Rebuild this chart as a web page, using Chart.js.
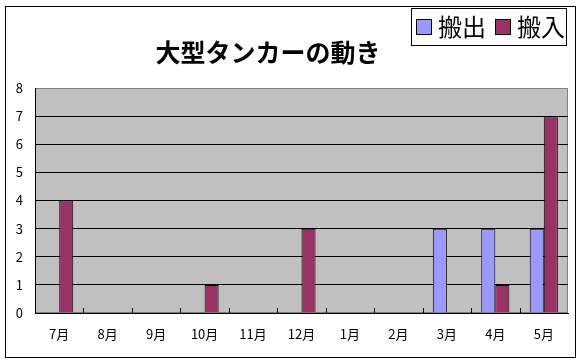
<!DOCTYPE html>
<html>
<head>
<meta charset="utf-8">
<script src="https://cdn.jsdelivr.net/npm/chart.js@4.4.0/dist/chart.umd.min.js"></script>
<style>
html,body{margin:0;padding:0;background:#fff;}
#wrap{width:582px;height:363px;position:relative;}
</style>
</head>
<body>
<div id="wrap"><canvas id="c" width="582" height="363"></canvas></div>
<script>
const titleText = '大型タンカーの動き';
const categories = ['7月','8月','9月','10月','11月','12月','1月','2月','3月','4月','5月'];
const outbound = [0,0,0,0,0,0,0,0,3,3,3];   // 搬出
const inbound  = [4,0,0,1,0,3,0,0,0,1,7];   // 搬入
const seriesNames = ['搬出','搬入'];
const yTicks = [0,1,2,3,4,5,6,7,8];

const JP = '"Noto Sans CJK JP", "Noto Sans", sans-serif';

const decor = {
  id: 'decor',
  beforeDraw(chart) {
    const {ctx, chartArea: a} = chart;
    ctx.save();
    ctx.fillStyle = '#fff';
    ctx.fillRect(0, 0, chart.width, chart.height);
    ctx.strokeStyle = '#000';
    ctx.lineWidth = 1;
    ctx.strokeRect(5.5, 6.5, 570, 351);
    ctx.fillStyle = '#c0c0c0';
    ctx.fillRect(a.left, a.top, a.right - a.left, a.bottom - a.top);
    ctx.strokeStyle = '#808080';
    ctx.strokeRect(a.left + 0.5, a.top + 0.5, a.right - a.left - 1, a.bottom - a.top - 1);
    ctx.restore();
  },
  afterDraw(chart) {
    const {ctx, chartArea: a} = chart;
    const x = chart.scales.x;
    ctx.save();
    // inward category tick marks on the x axis
    ctx.strokeStyle = '#000';
    ctx.lineWidth = 1;
    const half = (x.getPixelForTick(1) - x.getPixelForTick(0)) / 2;
    for (let i = 0; i < categories.length - 1; i++) {
      const px = Math.round(x.getPixelForTick(i) + half) + 0.5;
      ctx.beginPath();
      ctx.moveTo(px, a.bottom);
      ctx.lineTo(px, a.bottom - 5);
      ctx.stroke();
    }
    // title
    ctx.fillStyle = '#000';
    ctx.font = 'bold 25px ' + JP;
    ctx.textAlign = 'center';
    ctx.textBaseline = 'middle';
    ctx.fillText(titleText, 268, 52);
    // legend
    ctx.fillStyle = '#fff';
    ctx.fillRect(411, 8, 155, 37);
    ctx.strokeStyle = '#000';
    ctx.strokeRect(411.5, 8.5, 155, 37);
    const xs = [416, 495];
    chart.data.datasets.forEach((ds, i) => {
      ctx.fillStyle = ds.backgroundColor;
      ctx.fillRect(xs[i], 19, 16, 16);
      ctx.strokeStyle = '#000';
      ctx.strokeRect(xs[i] + 0.5, 19.5, 15, 15);
      ctx.fillStyle = '#000';
      ctx.font = '24px ' + JP;
      ctx.textAlign = 'left';
      ctx.textBaseline = 'middle';
      ctx.fillText(ds.label, xs[i] + 22, 27);
    });
    ctx.restore();
  }
};

new Chart(document.getElementById('c'), {
  type: 'bar',
  data: {
    labels: categories,
    datasets: [
      {label: seriesNames[0], data: outbound, backgroundColor: '#9999ff', borderColor: '#000', borderWidth: 1,
       categoryPercentage: 0.58, barPercentage: 1},
      {label: seriesNames[1], data: inbound, backgroundColor: '#993366', borderColor: '#000', borderWidth: 1,
       categoryPercentage: 0.58, barPercentage: 1}
    ]
  },
  options: {
    responsive: false,
    animation: false,
    events: [],
    layout: {padding: {top: 88, left: 5, right: 14, bottom: 20}},
    plugins: {legend: {display: false}, title: {display: false}, tooltip: {enabled: false}},
    scales: {
      x: {
        offset: true,
        grid: {drawOnChartArea: false, drawTicks: false},
        border: {display: true, color: '#000'},
        ticks: {color: '#000', font: {family: JP, size: 13}, padding: 13, maxRotation: 0, autoSkip: false},
        afterFit: s => { s.height = 30; }
      },
      y: {
        min: 0, max: 8,
        afterBuildTicks: s => { s.ticks = yTicks.map(v => ({value: v})); },
        grid: {drawTicks: false, color: c => (c.tick && c.tick.value === 8) ? '#808080' : '#000'},
        border: {color: '#000'},
        ticks: {color: '#000', font: {family: JP, size: 13}, padding: 12},
        afterFit: s => { s.width = 30; }
      }
    }
  },
  plugins: [decor]
});
</script>
</body>
</html>
